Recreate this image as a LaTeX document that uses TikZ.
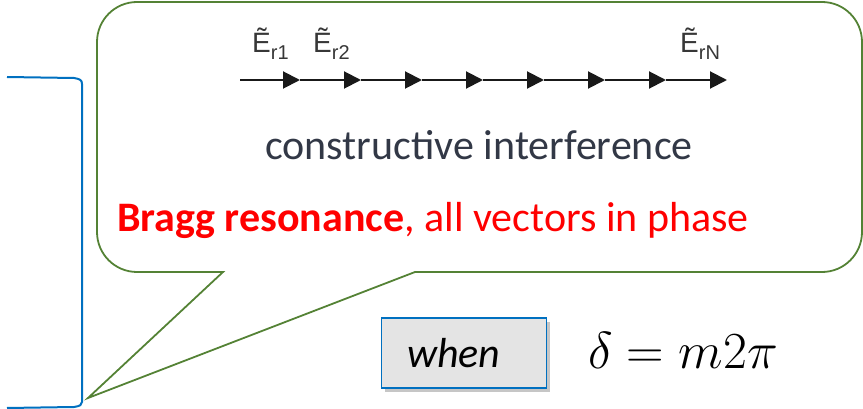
\RequirePackage{fix-cm}
\documentclass[tikz,border=0pt]{standalone}
\usepackage[no-math]{fontspec}
\setmainfont{Carlito}
\newfontfamily\arialf{Liberation Sans}
\usetikzlibrary{arrows.meta,shadows}
\definecolor{calloutgreen}{RGB}{84,130,53}
\definecolor{bracketblue}{RGB}{0,112,192}
\definecolor{textgray}{RGB}{50,56,70}
\definecolor{labgray}{RGB}{55,55,55}
\definecolor{arrowblack}{RGB}{25,25,25}
\definecolor{boxfill}{RGB}{228,228,228}
\tikzset{
  vecarrow/.style={line width=2pt, arrowblack, -{Triangle[length=17pt,width=17pt]}},
  elabel/.style={text=labgray, font=\arialf\fontsize{28}{30}\selectfont, inner sep=0pt, anchor=base west},
  whenbox/.style={draw=bracketblue, line width=1.6pt, fill=boxfill, minimum width=165pt, minimum height=70pt,
    drop shadow={opacity=0.45, shadow xshift=3pt, shadow yshift=-4pt}},
}
\begin{document}
\begin{tikzpicture}[x=1pt,y=1pt]
\useasboundingbox (0,0) rectangle (863,-409);
% blue bracket
\draw[bracketblue, line width=2pt] (7,-77) -- (74,-78) .. controls (80,-79) and (82,-80) .. (82,-84)
  -- (82,-402) .. controls (82,-405) and (80,-406) .. (74,-407) -- (7,-408);
% callout
\coordinate (tip) at (88,-398);
\draw[calloutgreen, line width=1.8pt]
  (223,-272) -- (137,-272) arc[start angle=270, end angle=180, radius=40] -- (97,-42)
  arc[start angle=180, end angle=90, radius=40] -- (822,-2)
  arc[start angle=90, end angle=0, radius=40] -- (862,-232)
  arc[start angle=0, end angle=-90, radius=40] -- (415,-272) -- (tip) -- cycle;
% vector chain
\coordinate (p0) at (240,-80);
\foreach \i [evaluate=\i as \xx using 300+61*(\i-1)] in {1,...,8} {
  \coordinate (p\i) at (\xx,-80);
}
\foreach \i [count=\j from 0] in {1,...,8} {
  \draw[vecarrow] (p\j) -- (p\i);
}
\node[elabel] (e1) at (252,-53) {\~{E}\raisebox{-7pt}{\fontsize{20}{21}\selectfont r1}};
\node[elabel] (e2) at (313,-53) {\~{E}\raisebox{-7pt}{\fontsize{20}{21}\selectfont r2}};
\node[elabel] (eN) at (680,-53) {\~{E}\raisebox{-7pt}{\fontsize{20}{21}\selectfont rN}};
% texts
\node[text=textgray, font=\fontsize{42}{46}\selectfont] (ci) at (479,-145) {constructive interference};
\node[text=red, font=\fontsize{42}{46}\selectfont] (br) at (433,-220) {\textbf{Bragg resonance}, all vectors in phase};
% when box
\node[whenbox, font=\itshape\fontsize{42}{46}\selectfont, text width=114pt, align=left] (when) at (464,-353) {when};
\node[font=\fontsize{52}{56}\selectfont] (eq) at (683,-350) {$\delta = m2\pi$};
\end{tikzpicture}
\end{document}
